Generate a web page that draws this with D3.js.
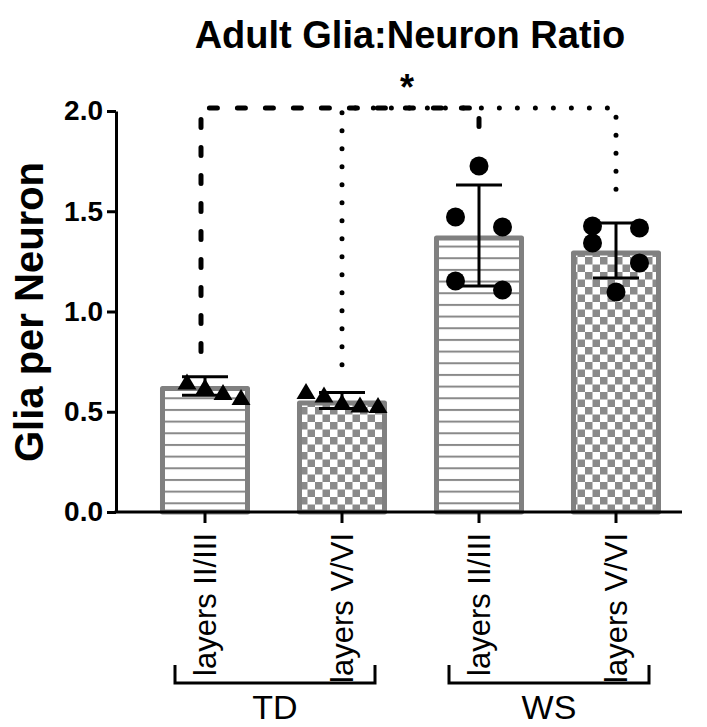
<!DOCTYPE html>
<html>
<head>
<meta charset="utf-8">
<script src="https://cdn.jsdelivr.net/npm/d3@7"></script>
<style>
  html, body { margin: 0; padding: 0; background: #fff; }
  svg { display: block; font-family: "Liberation Sans", Arial, Helvetica, sans-serif; }
</style>
</head>
<body>
<svg id="chart" width="707" height="727"></svg>
<script>
// Category keys, their tick labels and group membership
const categories = ["TD II/III", "TD V/VI", "WS II/III", "WS V/VI"];
const categoryLabels = ["layers II/III", "layers V/VI", "layers II/III", "layers V/VI"];
const groups = ["TD", "WS"];
const groupMembers = [[0, 1], [2, 3]];

// Bar means and standard deviations (glia per neuron)
const means = [0.628, 0.556, 1.379, 1.304];
const sds = [0.046, 0.040, 0.252, 0.137];

// Individual animals per category, with their scatter column slot
const pointValues = [
  [0.648, 0.623, 0.596, 0.571],
  [0.601, 0.584, 0.546, 0.534, 0.531],
  [1.726, 1.471, 1.421, 1.152, 1.107],
  [1.426, 1.416, 1.342, 1.242, 1.097]
];
const pointSlots = [
  [-1, 0, 1, 2],
  [-2, -1, 0, 1, 2],
  [0, -1, 1, -1, 1],
  [-1, 1, -1, 1, 0]
];
const pointShape = ["triangle", "triangle", "circle", "circle"];
const barPattern = ["hlines", "checker", "hlines", "checker"];

// Y axis ticks
const yTicks = [0, 0.5, 1.0, 1.5, 2.0];

// Significance comparisons: bracket height and where each leg stops
const comparisons = [
  { from: 0, to: 2, style: "dashed", top: 2.015, fromEnd: 0.80, toEnd: 1.895 },
  { from: 1, to: 3, style: "dotted", top: 2.015, fromEnd: 0.735, toEnd: 1.56 }
];
const sigLabel = "*";

const svg = d3.select("#chart");
const gray = "#808080";

const y = d3.scaleLinear().domain([0, 2]).range([512, 111]);
const x = d3.scaleBand().domain(categories)
  .range([136.5, 684.5]).paddingInner(0.343).paddingOuter(0.1715);
const cx = i => x(categories[i]) + x.bandwidth() / 2;
const axisX = 116;

// Fill patterns
const defs = svg.append("defs");
const hp = defs.append("pattern").attr("id", "hlines")
  .attr("patternUnits", "userSpaceOnUse")
  .attr("width", 20).attr("height", 11.67).attr("y", 503.3 - 1);
hp.append("rect").attr("width", 20).attr("height", 11.67).attr("fill", "#fff");
hp.append("rect").attr("y", 0).attr("width", 20).attr("height", 2).attr("fill", "#8a8a8a");

const cp = defs.append("pattern").attr("id", "checker")
  .attr("patternUnits", "userSpaceOnUse")
  .attr("width", 15).attr("height", 15).attr("x", 0).attr("y", 512);
cp.append("rect").attr("width", 15).attr("height", 15).attr("fill", "#fff");
cp.append("rect").attr("width", 7.5).attr("height", 7.5).attr("fill", "#8a8a8a");
cp.append("rect").attr("x", 7.5).attr("y", 7.5).attr("width", 7.5).attr("height", 7.5).attr("fill", "#8a8a8a");

// Title
svg.append("text")
  .attr("x", 410).attr("y", 48)
  .attr("text-anchor", "middle")
  .attr("font-size", 38).attr("font-weight", "bold")
  .text("Adult Glia:Neuron Ratio");

// Bars (border drawn inside the bar outline)
const bw = 5;
svg.append("g").selectAll("rect")
  .data(means)
  .join("rect")
  .attr("x", (d, i) => x(categories[i]) + bw / 2)
  .attr("width", x.bandwidth() - bw)
  .attr("y", d => y(d) + bw / 2)
  .attr("height", d => y(0) - y(d) - bw / 2)
  .attr("fill", (d, i) => `url(#${barPattern[i]})`)
  .attr("stroke", gray)
  .attr("stroke-width", bw)
  .attr("stroke-linejoin", "round");

// Significance brackets
const sig = svg.append("g").attr("fill", "none").attr("stroke", "#000").attr("stroke-width", 5);
comparisons.forEach(c => {
  const x1 = c.style === "dashed" ? cx(c.from) - 4 : cx(c.from);
  const x2 = cx(c.to);
  const p = d3.path();
  p.moveTo(x1, y(c.fromEnd));
  p.lineTo(x1, y(c.top));
  p.lineTo(x2, y(c.top));
  p.lineTo(x2, y(c.toEnd));
  const el = sig.append("path").attr("d", p.toString());
  if (c.style === "dashed") {
    el.attr("stroke-dasharray", "8,20").attr("stroke-linecap", "round");
  } else {
    el.attr("stroke-dasharray", "0,18").attr("stroke-linecap", "round");
  }
});
svg.append("text")
  .attr("x", 407).attr("y", 100)
  .attr("text-anchor", "middle")
  .attr("font-size", 36).attr("font-weight", "bold")
  .text(sigLabel);

// Error bars (mean ± SD)
const eb = svg.append("g").attr("stroke", "#000").attr("stroke-width", 3).attr("fill", "none");
means.forEach((m, i) => {
  const c = cx(i), hw = 23;
  eb.append("line").attr("x1", c).attr("x2", c).attr("y1", y(m + sds[i])).attr("y2", y(m - sds[i]));
  eb.append("line").attr("x1", c - hw).attr("x2", c + hw).attr("y1", y(m + sds[i])).attr("y2", y(m + sds[i]));
  eb.append("line").attr("x1", c - hw).attr("x2", c + hw).attr("y1", y(m - sds[i])).attr("y2", y(m - sds[i]));
});

// Individual points
const pts = svg.append("g").attr("fill", "#000");
pointValues.forEach((vals, i) => {
  vals.forEach((v, j) => {
    if (pointShape[i] === "triangle") {
      const px = cx(i) + pointSlots[i][j] * 18, py = y(v);
      const p = d3.path();
      p.moveTo(px, py - 8.5);
      p.lineTo(px + 9.5, py + 7.5);
      p.lineTo(px - 9.5, py + 7.5);
      p.closePath();
      pts.append("path").attr("d", p.toString());
    } else {
      pts.append("circle")
        .attr("cx", cx(i) + pointSlots[i][j] * 23.5)
        .attr("cy", y(v))
        .attr("r", 9.5);
    }
  });
});

// Y axis
const yAxis = svg.append("g")
  .attr("transform", `translate(${axisX},0)`)
  .call(d3.axisLeft(y).tickValues(yTicks).tickFormat(d3.format(".1f")).tickSize(9).tickSizeOuter(0).tickPadding(4));
yAxis.select(".domain").attr("stroke-width", 3);
yAxis.selectAll(".tick line").attr("stroke-width", 3);
yAxis.selectAll(".tick text")
  .attr("font-size", 28).attr("font-weight", "bold")
  .attr("font-family", "Liberation Sans, Arial, sans-serif")
  .attr("fill", "#000");

svg.append("text")
  .attr("transform", "translate(43,312) rotate(-90)")
  .attr("text-anchor", "middle")
  .attr("font-size", 40).attr("font-weight", "bold")
  .text("Glia per Neuron");

// X axis
const xAxis = svg.append("g")
  .attr("transform", `translate(0,${y(0)})`)
  .call(d3.axisBottom(x).tickSize(11).tickFormat((d, i) => categoryLabels[i]));
xAxis.select(".domain").remove();
xAxis.selectAll(".tick line").attr("stroke-width", 3);
xAxis.selectAll(".tick text")
  .attr("font-size", 31)
  .attr("font-family", "Liberation Sans, Arial, sans-serif")
  .attr("fill", "#000")
  .attr("text-anchor", "end")
  .attr("transform", "rotate(-90)")
  .attr("x", -21).attr("y", 0).attr("dy", "0.35em");
svg.append("line")
  .attr("x1", axisX - 1.5).attr("x2", 682)
  .attr("y1", y(0)).attr("y2", y(0))
  .attr("stroke", "#000").attr("stroke-width", 3);

// Group brackets
const gb = svg.append("g");
groups.forEach((g, k) => {
  const [a, b] = groupMembers[k];
  const left = cx(a) - 30, right = cx(b) + 33;
  const p = d3.path();
  p.moveTo(left, 665);
  p.lineTo(left, 683);
  p.lineTo(right, 683);
  p.lineTo(right, 665);
  gb.append("path").attr("d", p.toString())
    .attr("fill", "none").attr("stroke", "#000").attr("stroke-width", 3);
  gb.append("text")
    .attr("x", (left + right) / 2).attr("y", 719)
    .attr("text-anchor", "middle")
    .attr("font-size", 34)
    .text(g);
});
</script>
</body>
</html>
